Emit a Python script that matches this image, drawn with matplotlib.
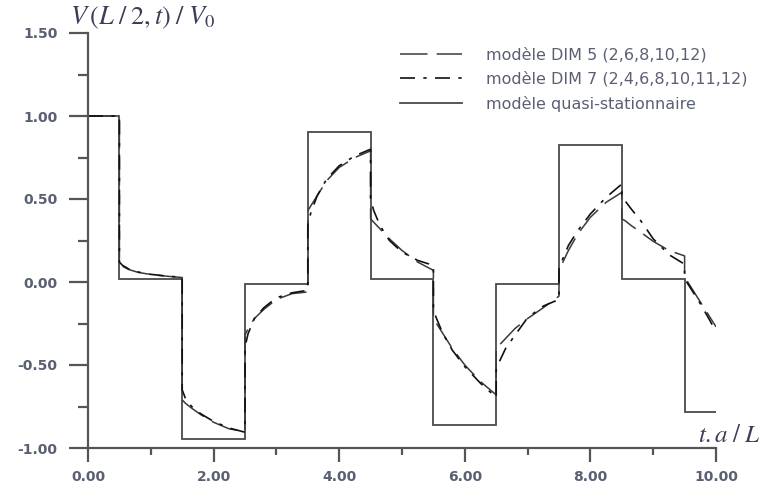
import matplotlib
matplotlib.use('Agg')
import matplotlib.pyplot as plt
from matplotlib.ticker import MultipleLocator, FormatStrFormatter

# temps reduit t.a/L (les instants repetes marquent les sauts)
t = [0.0, 0.5,
     0.5, 0.55, 0.65, 0.8, 1.0, 1.25, 1.5,
     1.5, 1.55, 1.65, 1.8, 2.0, 2.25, 2.5,
     2.5, 2.55, 2.65, 2.8, 3.0, 3.25, 3.5,
     3.5, 3.55, 3.65, 3.8, 4.0, 4.25, 4.5,
     4.5, 4.55, 4.65, 4.8, 5.0, 5.25, 5.5,
     5.5, 5.55, 5.65, 5.8, 6.0, 6.25, 6.5,
     6.5, 6.55, 6.65, 6.8, 7.0, 7.25, 7.5,
     7.5, 7.55, 7.65, 7.8, 8.0, 8.25, 8.5,
     8.5, 8.55, 8.65, 8.8, 9.0, 9.25, 9.5,
     9.5, 9.6, 9.75, 9.9, 10.0]

dim5 = [1.0, 1.0,
        0.11, 0.095, 0.075, 0.058, 0.045, 0.035, 0.027,
        -0.71, -0.73, -0.76, -0.80, -0.845, -0.885, -0.90,
        -0.32, -0.28, -0.22, -0.165, -0.105, -0.07, -0.06,
        0.43, 0.46, 0.52, 0.61, 0.69, 0.75, 0.79,
        0.38, 0.36, 0.32, 0.26, 0.19, 0.12, 0.07,
        -0.22, -0.25, -0.31, -0.40, -0.50, -0.60, -0.68,
        -0.39, -0.38, -0.34, -0.28, -0.22, -0.155, -0.085,
        0.06, 0.11, 0.19, 0.29, 0.39, 0.48, 0.54,
        0.38, 0.37, 0.34, 0.30, 0.245, 0.19, 0.157,
        0.03, -0.03, -0.12, -0.21, -0.27]

dim7 = [1.0, 1.0,
        0.12, 0.10, 0.078, 0.06, 0.046, 0.036, 0.028,
        -0.65, -0.70, -0.75, -0.795, -0.84, -0.88, -0.905,
        -0.39, -0.31, -0.22, -0.155, -0.095, -0.065, -0.05,
        0.34, 0.42, 0.52, 0.62, 0.70, 0.76, 0.80,
        0.50, 0.43, 0.34, 0.25, 0.18, 0.13, 0.10,
        -0.17, -0.22, -0.31, -0.41, -0.51, -0.61, -0.695,
        -0.53, -0.48, -0.40, -0.32, -0.215, -0.145, -0.105,
        0.08, 0.13, 0.22, 0.31, 0.41, 0.51, 0.59,
        0.52, 0.49, 0.44, 0.37, 0.26, 0.165, 0.107,
        0.02, -0.04, -0.13, -0.23, -0.30]

# modele quasi-stationnaire (paliers)
qs_edges = [0.0, 0.5, 1.5, 2.5, 3.5, 4.5, 5.5, 6.5, 7.5, 8.5, 9.5, 10.0]
qs_levels = [1.0, 0.018, -0.945, -0.01, 0.905, 0.016, -0.86, -0.014, 0.825, 0.016, -0.785]

labels = ['modèle DIM 5 (2,6,8,10,12)',
          'modèle DIM 7 (2,4,6,8,10,11,12)',
          'modèle quasi-stationnaire']

txt_col = '#5a6072'
ax_col = '#555555'

fig = plt.figure(figsize=(7.63, 4.88), dpi=100)
ax = fig.add_axes([88 / 763, 40 / 488, 628 / 763, 415 / 488])

l1, = ax.plot(t, dim5, color='#3a3a3a', lw=1.1, dashes=(18, 6))
l2, = ax.plot(t, dim7, color='#111111', lw=1.2, dashes=(9, 5, 2, 5))
l3 = ax.stairs(qs_levels, qs_edges, baseline=None, color='#4a4a4a', lw=1.3)

ax.set_xlim(0, 10)
ax.set_ylim(-1.0, 1.5)

for s in ['top', 'right']:
    ax.spines[s].set_visible(False)
for s in ['left', 'bottom']:
    ax.spines[s].set_color(ax_col)
    ax.spines[s].set_linewidth(1.6)

ax.xaxis.set_major_locator(MultipleLocator(2))
ax.xaxis.set_minor_locator(MultipleLocator(1))
ax.yaxis.set_major_locator(MultipleLocator(0.5))
ax.yaxis.set_minor_locator(MultipleLocator(0.25))
ax.xaxis.set_major_formatter(FormatStrFormatter('%.2f'))
ax.yaxis.set_major_formatter(FormatStrFormatter('%.2f'))

ax.tick_params(axis='y', which='major', direction='out', length=14, width=1.6,
               color=ax_col, labelcolor=txt_col, labelsize=10, pad=8)
ax.tick_params(axis='y', which='minor', direction='out', length=7, width=1.6, color=ax_col)
ax.tick_params(axis='x', which='major', direction='out', length=10, width=1.6,
               color=ax_col, labelcolor=txt_col, labelsize=10, pad=6)
ax.tick_params(axis='x', which='minor', direction='out', length=5, width=1.6, color=ax_col)
for lab in ax.get_xticklabels() + ax.get_yticklabels():
    lab.set_fontweight('bold')

fig.text(70 / 763, 1 - 18 / 488, r'$V\,(L\;/\;2,t)\;/\;V_0$', fontsize=19,
         color='#3a3f55', ha='left', va='center', math_fontfamily='stix')
fig.text(760 / 763, 1 - 435 / 488, r'$t.a\;/\;L$', fontsize=18,
         color='#3a3f55', ha='right', va='center', math_fontfamily='stix')

leg = ax.legend([l1, l2, l3], labels, loc='upper left',
                bbox_to_anchor=(400 / 763, 1 - 47 / 488),
                bbox_transform=fig.transFigure, frameon=False, fontsize=11.5,
                handlelength=3.9, handletextpad=1.5, labelspacing=0.55,
                borderpad=0, borderaxespad=0)
for tx in leg.get_texts():
    tx.set_color(txt_col)

fig.savefig('out.png', dpi=100)
